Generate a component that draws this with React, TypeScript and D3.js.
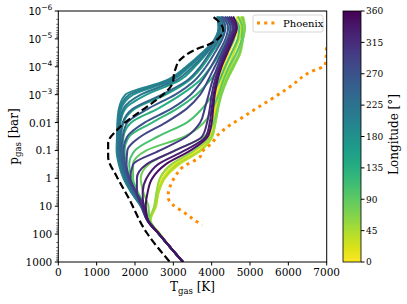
import React from 'react';
import * as d3 from 'd3';

// pressure grid (log10 bar) shared by all longitude profiles
const logPressure = [-5.8, -5.4, -5.0, -4.5, -4.0, -3.5, -3.0, -2.5, -2.0, -1.5, -1.0, -0.5, 0.0, 0.5, 1.0, 1.5, 2.0, 3.0];

const longitudes = [0, 15, 30, 45, 60, 75, 90, 105, 120, 135, 150, 165, 180, 195, 210, 225, 240, 255, 270, 285, 300, 315, 330, 345];

// T_gas [K] per longitude
const profileT = [
  [4650, 4700, 4600, 4450, 4300, 4200, 4120, 4080, 4030, 3950, 3600, 2950, 2650, 2570, 2520, 2390, 2650, 3250],
  [4700, 4760, 4680, 4520, 4380, 4250, 4160, 4100, 4060, 3980, 3680, 3050, 2720, 2600, 2540, 2400, 2650, 3250],
  [4750, 4800, 4720, 4580, 4450, 4300, 4200, 4140, 4090, 4010, 3720, 3150, 2780, 2620, 2550, 2410, 2650, 3250],
  [4800, 4850, 4800, 4650, 4500, 4350, 4230, 4160, 4100, 4020, 3700, 3100, 2760, 2610, 2540, 2400, 2650, 3250],
  [4820, 4870, 4820, 4750, 4580, 4400, 4260, 4170, 4100, 3980, 3550, 2950, 2650, 2560, 2500, 2390, 2650, 3250],
  [4780, 4860, 4820, 4720, 4550, 4380, 4250, 4150, 4050, 3800, 3050, 2350, 2150, 2220, 2350, 2380, 2640, 3250],
  [4680, 4800, 4780, 4650, 4450, 4300, 4180, 4020, 3800, 3300, 2300, 1950, 1950, 2080, 2270, 2360, 2630, 3250],
  [4550, 4720, 4680, 4520, 4350, 4200, 4020, 3750, 3350, 2600, 2000, 1850, 1900, 2060, 2250, 2350, 2630, 3250],
  [4450, 4620, 4580, 4400, 4200, 3950, 3600, 3100, 2450, 1850, 1730, 1760, 1860, 2030, 2230, 2350, 2630, 3250],
  [4350, 4480, 4420, 4230, 3980, 3680, 3200, 2600, 1900, 1700, 1670, 1720, 1830, 2000, 2210, 2340, 2630, 3250],
  [4250, 4350, 4250, 4000, 3750, 3400, 2800, 2000, 1700, 1640, 1630, 1690, 1800, 1990, 2200, 2340, 2630, 3250],
  [4200, 4250, 4150, 3880, 3560, 3150, 2300, 1750, 1620, 1590, 1590, 1650, 1770, 1960, 2180, 2330, 2630, 3250],
  [4150, 4200, 4100, 3800, 3420, 2950, 1950, 1640, 1570, 1550, 1550, 1610, 1730, 1920, 2160, 2320, 2630, 3250],
  [4150, 4180, 4080, 3750, 3330, 2800, 1750, 1580, 1540, 1530, 1520, 1580, 1700, 1900, 2150, 2320, 2630, 3250],
  [4150, 4180, 4090, 3780, 3380, 2880, 1850, 1610, 1560, 1540, 1540, 1600, 1720, 1910, 2160, 2320, 2630, 3250],
  [4180, 4220, 4130, 3850, 3500, 3050, 2150, 1700, 1600, 1570, 1570, 1630, 1750, 1940, 2170, 2330, 2630, 3250],
  [4220, 4300, 4200, 3950, 3700, 3350, 2700, 1950, 1680, 1620, 1610, 1670, 1790, 1980, 2200, 2340, 2630, 3250],
  [4260, 4360, 4280, 4080, 3850, 3550, 3050, 2350, 1800, 1680, 1650, 1700, 1810, 1990, 2200, 2340, 2630, 3250],
  [4300, 4430, 4360, 4180, 3980, 3750, 3450, 2950, 2250, 1800, 1700, 1740, 1840, 2010, 2210, 2340, 2630, 3250],
  [4350, 4500, 4420, 4260, 4080, 3900, 3700, 3350, 2800, 2150, 1800, 1780, 1860, 2030, 2230, 2340, 2630, 3250],
  [4400, 4550, 4460, 4300, 4150, 4020, 3920, 3820, 3700, 3350, 2650, 1950, 1880, 2030, 2230, 2340, 2630, 3250],
  [4450, 4580, 4480, 4330, 4200, 4080, 4000, 3950, 3880, 3750, 3050, 2300, 2050, 2050, 2180, 2320, 2630, 3250],
  [4500, 4620, 4520, 4370, 4230, 4120, 4050, 4000, 3950, 3850, 3300, 2600, 2300, 2200, 2220, 2320, 2630, 3250],
  [4560, 4660, 4560, 4410, 4260, 4150, 4080, 4040, 4000, 3900, 3450, 2800, 2450, 2330, 2280, 2330, 2630, 3250],
];

// black dashed profile
const dashedLogP = [-5.78, -5.6, -5.32, -5.05, -4.85, -4.6, -4.24, -3.9, -3.35, -3.06, -2.8, -2.56, -2.27, -1.73, -1.27, -0.77, -0.05, 0.67, 1.96, 3.0];
const dashedT = [4050, 4200, 4300, 4200, 4000, 3550, 3170, 3050, 2960, 2780, 2550, 2310, 2000, 1530, 1300, 1300, 1530, 1820, 2310, 2910];

// Phoenix profile
const phoenixLogP = [-6.1, -5.9, -5.6, -5.0, -4.65, -4.3, -4.06, -3.81, -3.28, -2.81, -2.52, -2.2, -1.91, -1.56, -1.27, -0.95, -0.77, -0.41, -0.05, 0.31, 0.67, 0.95, 1.24, 1.56, 1.67];
const phoenixT = [6990, 6995, 7150, 7150, 6995, 6985, 6955, 6565, 6040, 5520, 5180, 4820, 4480, 4165, 4010, 3750, 3695, 3250, 3040, 2910, 2860, 2990, 3300, 3620, 3750];

const xTicks = [0, 1000, 2000, 3000, 4000, 5000, 6000, 7000];
const yTicks = [1e-6, 1e-5, 1e-4, 1e-3, 0.01, 0.1, 1, 10, 100, 1000];
const yTickLabels = ['10|-6', '10|-5', '10|-4', '10|-3', '0.01', '0.1', '1', '10', '100', '1000'];
const cbarTicks = [0, 45, 90, 135, 180, 225, 270, 315, 360];

const W = 407, H = 304;
const L = 58.3, R = 326.7, T = 11, B = 262;
const serif = '"DejaVu Serif", serif';
const sans = '"DejaVu Sans", sans-serif';

const App: React.FC = () => {
  const x = d3.scaleLinear().domain([0, 7000]).range([L, R]);
  const y = d3.scaleLog().domain([1e-6, 1000]).range([T, B]);
  const cb = d3.scaleLinear().domain([0, 360]).range([B, T]);
  const color = (lon: number) => d3.interpolateViridis(1 - lon / 360);

  const line = d3.line<[number, number]>()
    .x(d => x(d[1]))
    .y(d => y(Math.pow(10, d[0])))
    .curve(d3.curveMonotoneY);

  const minor: number[] = [];
  for (let e = -6; e < 3; e++) for (let k = 2; k <= 9; k++) minor.push(k * Math.pow(10, e));

  const stops = d3.range(0, 1.0001, 0.05);

  return (
    <svg width={W} height={H} style={{ position: 'absolute', left: 0, top: 0 }} fontFamily={serif}>
      <defs>
        <clipPath id="plot"><rect x={L} y={T} width={R - L} height={B - T} /></clipPath>
        <linearGradient id="vir" x1="0" y1="1" x2="0" y2="0">
          {stops.map(s => <stop key={s} offset={s} stopColor={d3.interpolateViridis(1 - s)} />)}
        </linearGradient>
      </defs>
      <rect width={W} height={H} fill="#fff" />

      <g clipPath="url(#plot)">
        {profileT.map((ts, i) => (
          <path key={i} d={line(ts.map((t, j) => [logPressure[j], t]))!} fill="none"
            stroke={color(longitudes[i])} strokeWidth={2} strokeLinejoin="round" />
        ))}
        <path d={line(dashedT.map((t, j) => [dashedLogP[j], t]))!} fill="none" stroke="#000"
          strokeWidth={2.2} strokeDasharray="7.4 3.4" />
        <path d={line(phoenixT.map((t, j) => [phoenixLogP[j], t]))!} fill="none" stroke="#ff8c00"
          strokeWidth={3} strokeDasharray="3 4.2" />
      </g>

      {/* axes frame */}
      <rect x={L} y={T} width={R - L} height={B - T} fill="none" stroke="#000" strokeWidth={1} />

      {xTicks.map(t => (
        <g key={t}>
          <line x1={x(t)} x2={x(t)} y1={B} y2={B + 3.5} stroke="#000" />
          <text x={x(t)} y={B + 14} fontSize={10.5} textAnchor="middle">{t}</text>
        </g>
      ))}
      {minor.map(t => (
        <line key={t} x1={L - 2} x2={L} y1={y(t)} y2={y(t)} stroke="#000" strokeWidth={0.6} />
      ))}
      {yTicks.map((t, i) => {
        const lab = yTickLabels[i];
        const yy = y(t);
        return (
          <g key={t}>
            <line x1={L - 3.5} x2={L} y1={yy} y2={yy} stroke="#000" />
            {lab.includes('|') ? (
              <text x={L - 6} y={yy + 4} fontSize={10} textAnchor="end" fontFamily={sans}>
                10<tspan dy={-5} fontSize={7.5}>{'\u2212' + lab.split('|')[1].slice(1)}</tspan>
              </text>
            ) : (
              <text x={L - 6} y={yy + 4} fontSize={10.5} textAnchor="end">{lab}</text>
            )}
          </g>
        );
      })}

      <text x={(L + R) / 2} y={291} fontSize={12} textAnchor="middle">
        T<tspan fontSize={8.5} dy={3}>gas</tspan><tspan dy={-3}> [K]</tspan>
      </text>
      <text transform={`translate(18,${(T + B) / 2}) rotate(-90)`} fontSize={12} textAnchor="middle">
        p<tspan fontSize={8.5} dy={3}>gas</tspan><tspan dy={-3}> [bar]</tspan>
      </text>

      {/* legend */}
      <rect x={253} y={15} width={70} height={17} rx={2} fill="#fff" stroke="#ccc" strokeWidth={0.8} />
      <line x1={257} x2={276} y1={23} y2={23} stroke="#ff8c00" strokeWidth={3} strokeDasharray="3 4.2" />
      <text x={283} y={27} fontSize={10}>Phoenix</text>

      {/* colorbar */}
      <rect x={343} y={T} width={18} height={B - T} fill="url(#vir)" stroke="#000" strokeWidth={0.8} />
      {cbarTicks.map(t => (
        <g key={t}>
          <line x1={361} x2={364.5} y1={cb(t)} y2={cb(t)} stroke="#000" />
          <text x={366} y={cb(t) + 3.3} fontSize={9}>{t}</text>
        </g>
      ))}
      <text transform={`translate(398,${(T + B) / 2 - 2}) rotate(-90)`} fontSize={12} textAnchor="middle">
        Longitude [°]
      </text>
    </svg>
  );
};

export default App;
